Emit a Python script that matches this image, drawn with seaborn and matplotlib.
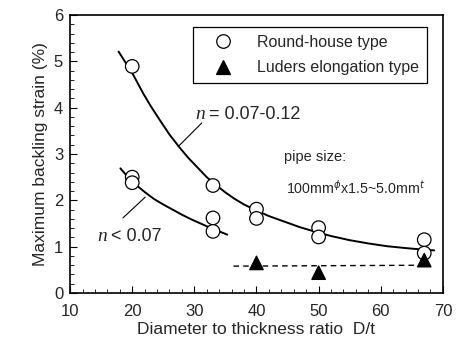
import matplotlib
matplotlib.use("Agg")
import matplotlib.pyplot as plt
import seaborn as sns
import pandas as pd
from matplotlib.ticker import MultipleLocator

# measured points
round_dt = [20, 20, 20, 33, 33, 33, 40, 40, 50, 50, 67, 67]
round_strain = [4.89, 2.50, 2.38, 2.32, 1.62, 1.33, 1.81, 1.61, 1.41, 1.21, 1.15, 0.86]
luders_dt = [40, 50, 67]
luders_strain = [0.65, 0.44, 0.71]

# trend curves
upper_dt = [17.8, 18.8, 19.8, 20.8, 21.8, 23.0, 24.5, 26.0, 27.5, 29.0, 30.5, 32.0, 33.5, 35.0,
            36.5, 38.0, 40.0, 42.0, 44.5, 47.0, 49.5, 52.0, 55.0, 58.0, 61.0, 64.0, 66.5, 68.6]
upper_strain = [5.21, 5.00, 4.80, 4.55, 4.30, 4.03, 3.72, 3.42, 3.16, 2.92, 2.71, 2.50, 2.33, 2.17,
                2.03, 1.91, 1.78, 1.66, 1.54, 1.42, 1.32, 1.23, 1.14, 1.07, 1.01, 0.97, 0.94, 0.92]
lower_dt = [18.1, 19.0, 20.0, 21.0, 22.1, 23.5, 25.0, 26.5, 28.0, 29.5, 31.0, 32.5, 34.0, 35.3]
lower_strain = [2.69, 2.55, 2.42, 2.29, 2.17, 2.03, 1.91, 1.80, 1.69, 1.59, 1.50, 1.41, 1.33, 1.26]
luders_line_dt = [36.3, 68.0]
luders_line_strain = [0.58, 0.60]

pts = pd.concat([
    pd.DataFrame({"dt": round_dt, "strain": round_strain, "kind": "Round-house type"}),
    pd.DataFrame({"dt": luders_dt, "strain": luders_strain, "kind": "Luders elongation type"}),
], ignore_index=True)

sns.set_style("ticks")
plt.rcParams["font.family"] = ["Liberation Sans", "DejaVu Sans"]

fig = plt.figure(figsize=(4.58, 3.48), dpi=100)
ax = fig.add_axes([0.153, 0.158, 0.814, 0.799])

sns.lineplot(x=upper_dt, y=upper_strain, ax=ax, color="black", lw=1.4, sort=False)
sns.lineplot(x=lower_dt, y=lower_strain, ax=ax, color="black", lw=1.4, sort=False)
ax.plot(luders_line_dt, luders_line_strain, color="black", lw=1.0, ls=(0, (4, 3)))

sns.scatterplot(data=pts, x="dt", y="strain", hue="kind", style="kind",
                markers={"Round-house type": "o", "Luders elongation type": "^"},
                palette={"Round-house type": "white", "Luders elongation type": "black"},
                edgecolor="black", linewidth=0.9, s=95, ax=ax, zorder=3)

ax.set_xlim(10, 70)
ax.set_ylim(0, 6)
ax.xaxis.set_major_locator(MultipleLocator(10))
ax.xaxis.set_minor_locator(MultipleLocator(2))
ax.yaxis.set_major_locator(MultipleLocator(1))
ax.yaxis.set_minor_locator(MultipleLocator(0.2))
ax.tick_params(which="both", direction="in", labelsize=12, color="black")
ax.tick_params(which="major", length=5)
ax.tick_params(which="minor", length=3)
ax.tick_params(axis="x", pad=8)
ax.tick_params(axis="y", pad=5)
for sp in ax.spines.values():
    sp.set_color("black")
    sp.set_linewidth(1.2)

ax.set_xlabel("Diameter to thickness ratio  D/t", fontsize=12.5, labelpad=2)
ax.set_ylabel("Maximum backling strain (%)", fontsize=12.5, labelpad=4)

leg = ax.legend(loc="upper right", bbox_to_anchor=(0.957, 0.957), borderaxespad=0,
                frameon=True, fancybox=False, edgecolor="black", fontsize=11.5,
                handletextpad=0.8, handlelength=2.7, borderpad=0.5, labelspacing=0.65)
leg.get_frame().set_linewidth(0.9)
leg.get_frame().set_alpha(1)

# annotations
ax.plot([31.2, 27.4], [3.67, 3.16], color="black", lw=0.8)
ax.plot([22.1, 18.5], [2.07, 1.62], color="black", lw=0.8)
ax.text(30.2, 3.85, "n", fontsize=14, style="italic", family="Liberation Serif", va="center")
ax.text(31.6, 3.85, " = 0.07-0.12", fontsize=13, va="center")
ax.text(14.4, 1.21, "n", fontsize=14, style="italic", family="Liberation Serif", va="center")
ax.text(15.8, 1.21, " < 0.07", fontsize=13, va="center")
ax.text(44.4, 2.94, "pipe size:", fontsize=10.5, va="center")
ax.text(44.7, 2.27, r"100mm$^{\phi}$x1.5~5.0mm$^{t}$", fontsize=10.3, va="center")

fig.savefig("out.png", dpi=100)
